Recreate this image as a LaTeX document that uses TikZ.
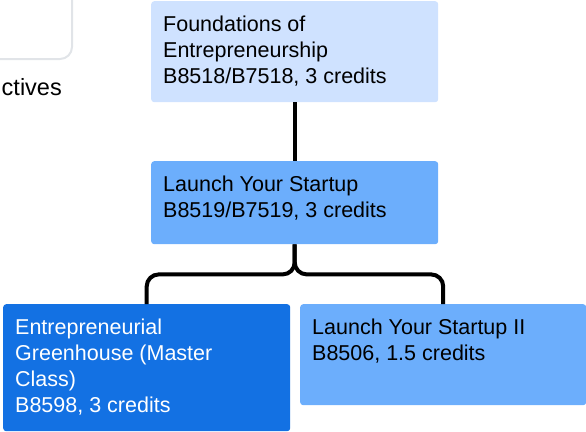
\documentclass[tikz,border=0pt]{standalone}
\usepackage{fontspec}
\setmainfont{Liberation Sans}
\definecolor{paleblue}{HTML}{CFE2FF}
\definecolor{midblue}{HTML}{6CAEFC}
\definecolor{deepblue}{HTML}{1371E3}
\definecolor{frame}{HTML}{E1E4E8}
\newcommand{\crsfont}{\fontsize{21.5}{26}\selectfont}
\newcommand{\crstext}[3]{\parbox[t][#2pt][t]{#1pt}{\strut #3}}
\tikzset{
  course/.style={anchor=north west, inner xsep=12pt, inner ysep=12pt, rounded corners=3pt, font=\crsfont},
  link/.style={line width=4pt, black}
}
\begin{document}
\begin{tikzpicture}[x=1pt, y=-1pt]
	\useasboundingbox (0,0) rectangle (586,431);
	\clip (0,0) rectangle (586,431);

	\node[anchor=south east, minimum width=160pt, minimum height=120pt, draw=frame, line width=2pt, rounded corners=12pt] (goals) at (73,60) {};
	\node[anchor=base east, font=\fontsize{23.5}{28}\selectfont, inner sep=0pt] (goaltxt) at (62,95) {ctives};

	\node[course, fill=paleblue] (found) at (151,1) {\crstext{263}{77}{Foundations of\\Entrepreneurship\\B8518/B7518, 3 credits}};
	\node[course, fill=midblue] (launch) at (151,161) {\crstext{263}{59}{Launch Your Startup\\B8519/B7519, 3 credits}};
	\node[course, fill=deepblue, text=white] (green) at (3,304) {\crstext{263}{103}{Entrepreneurial\\Greenhouse (Master\\Class)\\B8598, 3 credits}};
	\node[course, fill=midblue] (launchii) at (300,304) {\crstext{262}{77}{Launch Your Startup II\\B8506, 1.5 credits}};

	\draw[link] (found) -- (launch);
	\draw[link, rounded corners=12pt] (launch.south) -- ++(0,30) -| (green.north);
	\draw[link, rounded corners=12pt] (launch.south) -- ++(0,30) -| (launchii.north);

\end{tikzpicture}
\end{document}
